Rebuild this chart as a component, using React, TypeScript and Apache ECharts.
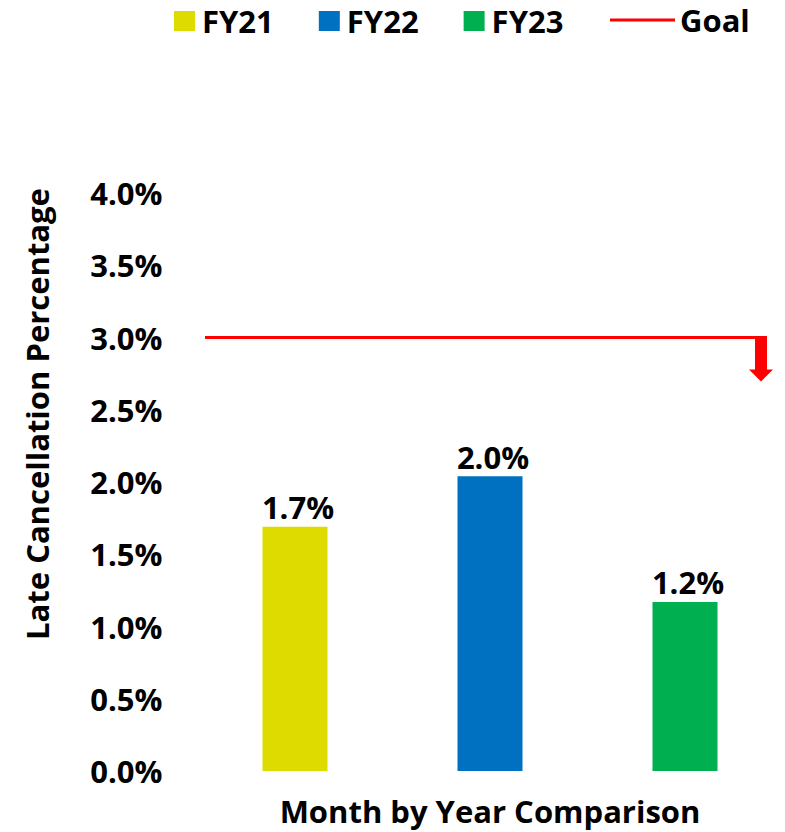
import React, { useEffect, useRef } from "react";
import * as echarts from "echarts";

const categories = ["FY21", "FY22", "FY23"];
const seriesNames = ["FY21", "FY22", "FY23"];
const seriesValues = [1.69, 2.04, 1.17];
const seriesColors = ["#DDDB00", "#0070C0", "#00B050"];
const goalName = "Goal";
const goalValue = 3.0;
const yTicks = { min: 0, max: 4, interval: 0.5 };
const yTitle = "Late Cancellation Percentage";
const xTitle = "Month by Year Comparison";

const FONT = "'Open Sans', 'Noto Sans', sans-serif";
const FS = 31;

export default function App() {
  const ref = useRef<HTMLDivElement>(null);

  useEffect(() => {
    if (!ref.current) return;
    const chart = echarts.init(ref.current, null, { renderer: "svg" });

    const barSeries = seriesNames.map((name, i) => ({
      name,
      type: "bar",
      barWidth: 65,
      barGap: "-100%",
      itemStyle: { color: seriesColors[i] },
      data: categories.map((_, j) => (j === i ? seriesValues[i] : "-")),
      label: {
        show: true,
        position: "top",
        distance: 4,
        offset: [3, 0],
        formatter: (p: any) => Number(p.value).toFixed(1) + "%",
        fontFamily: FONT,
        fontSize: FS,
        fontWeight: "bold",
        color: "#000",
      },
    }));

    const textStyle = {
      fontFamily: FONT,
      fontSize: FS,
      fontWeight: "bold",
      color: "#000",
      lineHeight: 32,
    };

    const yTitleGraphic = {
      type: "text",
      x: 37,
      y: 414,
      rotation: Math.PI / 2,
      style: {
        text: yTitle,
        fontFamily: FONT,
        fontSize: FS,
        fontWeight: "bold",
        fill: "#000",
        align: "center",
        verticalAlign: "middle",
      },
    };

    chart.setOption({
      animation: false,
      backgroundColor: "#fff",
      grid: { left: 197.5, right: 2.5, top: 193, bottom: 60, containLabel: false },
      legend: [
        {
          data: seriesNames,
          left: 174,
          top: 5,
          padding: 0,
          icon: "rect",
          itemWidth: 21,
          itemHeight: 20,
          itemGap: 45,
          textStyle: { ...textStyle, padding: [0, 0, 0, 2] },
          selectedMode: false,
        },
        {
          data: [goalName],
          left: 610,
          top: 4,
          padding: 0,
          icon: "rect",
          itemWidth: 65,
          itemHeight: 3,
          textStyle: { ...textStyle },
          selectedMode: false,
        },
      ],
      xAxis: {
        type: "category",
        data: categories,
        axisLine: { show: false },
        axisTick: { show: false },
        axisLabel: { show: false },
        splitLine: { show: false },
        name: xTitle,
        nameLocation: "middle",
        nameGap: 24,
        nameTextStyle: { ...textStyle },
      },
      yAxis: {
        type: "value",
        min: yTicks.min,
        max: yTicks.max,
        interval: yTicks.interval,
        axisLine: { show: false },
        axisTick: { show: false },
        splitLine: { show: false },
        axisLabel: {
          margin: 35,
          formatter: (v: number) => v.toFixed(1) + "%",
          fontFamily: FONT,
          fontSize: FS,
          fontWeight: "bold",
          color: "#000",
        },
      },
      series: [
        ...barSeries,
        {
          name: goalName,
          type: "line",
          data: [],
          color: "#FF0000",
          lineStyle: { color: "#FF0000", width: 3 },
          itemStyle: { color: "#FF0000" },
          markLine: {
            silent: true,
            symbol: ["none", "none"],
            label: { show: false },
            lineStyle: { color: "#FF0000", width: 3, type: "solid" },
            data: [[{ x: 205, yAxis: goalValue }, { x: 761, yAxis: goalValue }]],
          },
        },
      ],
      graphic: [yTitleGraphic],
    });

    const gy = chart.convertToPixel({ yAxisIndex: 0 }, goalValue) as number;
    chart.setOption({
      graphic: [
        yTitleGraphic,
        {
          type: "polygon",
          silent: true,
          shape: {
            points: [
              [755, gy - 1.5],
              [767, gy - 1.5],
              [767, gy + 32],
              [773, gy + 32],
              [761, gy + 44],
              [749, gy + 32],
              [755, gy + 32],
            ],
          },
          style: { fill: "#FF0000" },
        },
      ],
    });

    return () => chart.dispose();
  }, []);

  return (
    <div
      ref={ref}
      style={{ position: "fixed", left: 0, top: 0, width: 785, height: 832 }}
    />
  );
}
